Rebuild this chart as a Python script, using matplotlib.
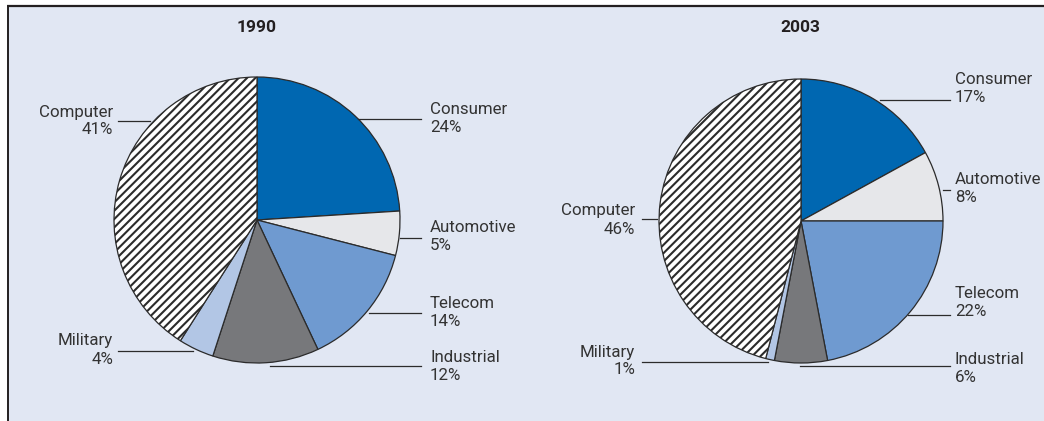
import matplotlib
matplotlib.use("Agg")
import matplotlib.pyplot as plt
from matplotlib.patches import Rectangle

plt.rcParams['font.family'] = ['Roboto', 'DejaVu Sans']
plt.rcParams['hatch.linewidth'] = 1.5

# Market share by application segment
sectors = ['Consumer', 'Automotive', 'Telecom', 'Industrial', 'Military', 'Computer']
share_1990 = [24, 5, 14, 12, 4, 41]
share_2003 = [17, 8, 22, 6, 1, 46]
years = ['1990', '2003']

sector_colors = ['#0067B1', '#E6E7EA', '#6F9AD0', '#77787B', '#B2C6E5', '#FFFFFF']
hatched_sector = 'Computer'

W, H = 1044, 421
BG = '#E1E7F3'
TXT = '#333333'


def yy(y):
    """Convert a top-down pixel row to the bottom-up axes coordinate."""
    return H - y


# Layout of the two panels (pixel units): pie centre, radius, title centre
panels = [
    dict(cx=257, cy=220, r=143, title_x=257),
    dict(cx=801, cy=221, r=142, title_x=800),
]

# Label blocks: (side, text x, text centre y, leader x0, leader x1, leader y)
label_layout = [
    {
        'Consumer':   ('L', 430, 119, 358, 421, 119),
        'Automotive': ('L', 430, 237, 400, 421, 238),
        'Telecom':    ('L', 430, 312, 369, 421, 313),
        'Industrial': ('L', 430, 367, 270, 421, 366),
        'Military':   ('R', 113, 350, 118, 193, 351),
        'Computer':   ('R', 113, 121, 118, 150, 121),
    },
    {
        'Consumer':   ('L', 955, 89, 880, 950, 100),
        'Automotive': ('L', 955, 189, 943, 950, 190),
        'Telecom':    ('L', 955, 302, 908, 950, 315),
        'Industrial': ('L', 955, 368, 800, 950, 366),
        'Military':   ('R', 635, 361, 642, 768, 362),
        'Computer':   ('R', 635, 220, 642, 657, 219),
    },
]

fig = plt.figure(figsize=(W / 100, H / 100), dpi=100)
fig.patch.set_facecolor('white')
ax = fig.add_axes([0, 0, 1, 1])

# Panel background and its top/left rules
ax.add_patch(Rectangle((8, 0), W - 8, yy(7), facecolor=BG, edgecolor='none', zorder=0))
ax.plot([7, W], [yy(6), yy(6)], color='#231f20', lw=1.6, solid_capstyle='butt', zorder=1)
ax.plot([7.5, 7.5], [0, yy(6)], color='#231f20', lw=1.4, solid_capstyle='butt', zorder=1)

for year, shares, panel, layout in zip(years, [share_1990, share_2003], panels, label_layout):
    wedges, _ = ax.pie(
        shares,
        colors=sector_colors,
        startangle=90,
        counterclock=False,
        center=(panel['cx'], yy(panel['cy'])),
        radius=panel['r'],
        frame=True,
        wedgeprops=dict(edgecolor='#2b2b2b', linewidth=0.9),
    )
    for w, name in zip(wedges, sectors):
        w.set_zorder(2)
        if name == hatched_sector:
            w.set_hatch('////')

    ax.text(panel['title_x'], yy(28), year, ha='center', va='center',
            fontsize=12.5, fontweight='bold', color='#231f20')

    for name, value in zip(sectors, shares):
        side, tx, ty, x0, x1, ly = layout[name]
        ax.plot([x0, x1], [yy(ly), yy(ly)], color='#2b2b2b', lw=0.9, zorder=3)
        ax.text(tx, yy(ty), f'{name}\n{value}%',
                ha='left' if side == 'L' else 'right',
                multialignment='left' if side == 'L' else 'right',
                va='center', fontsize=12.2, color=TXT, linespacing=1.25, zorder=4)

ax.set_xlim(0, W)
ax.set_ylim(0, H)
ax.set_aspect('auto')
ax.set_axis_off()

fig.savefig('out.png', dpi=100, facecolor=fig.get_facecolor())
